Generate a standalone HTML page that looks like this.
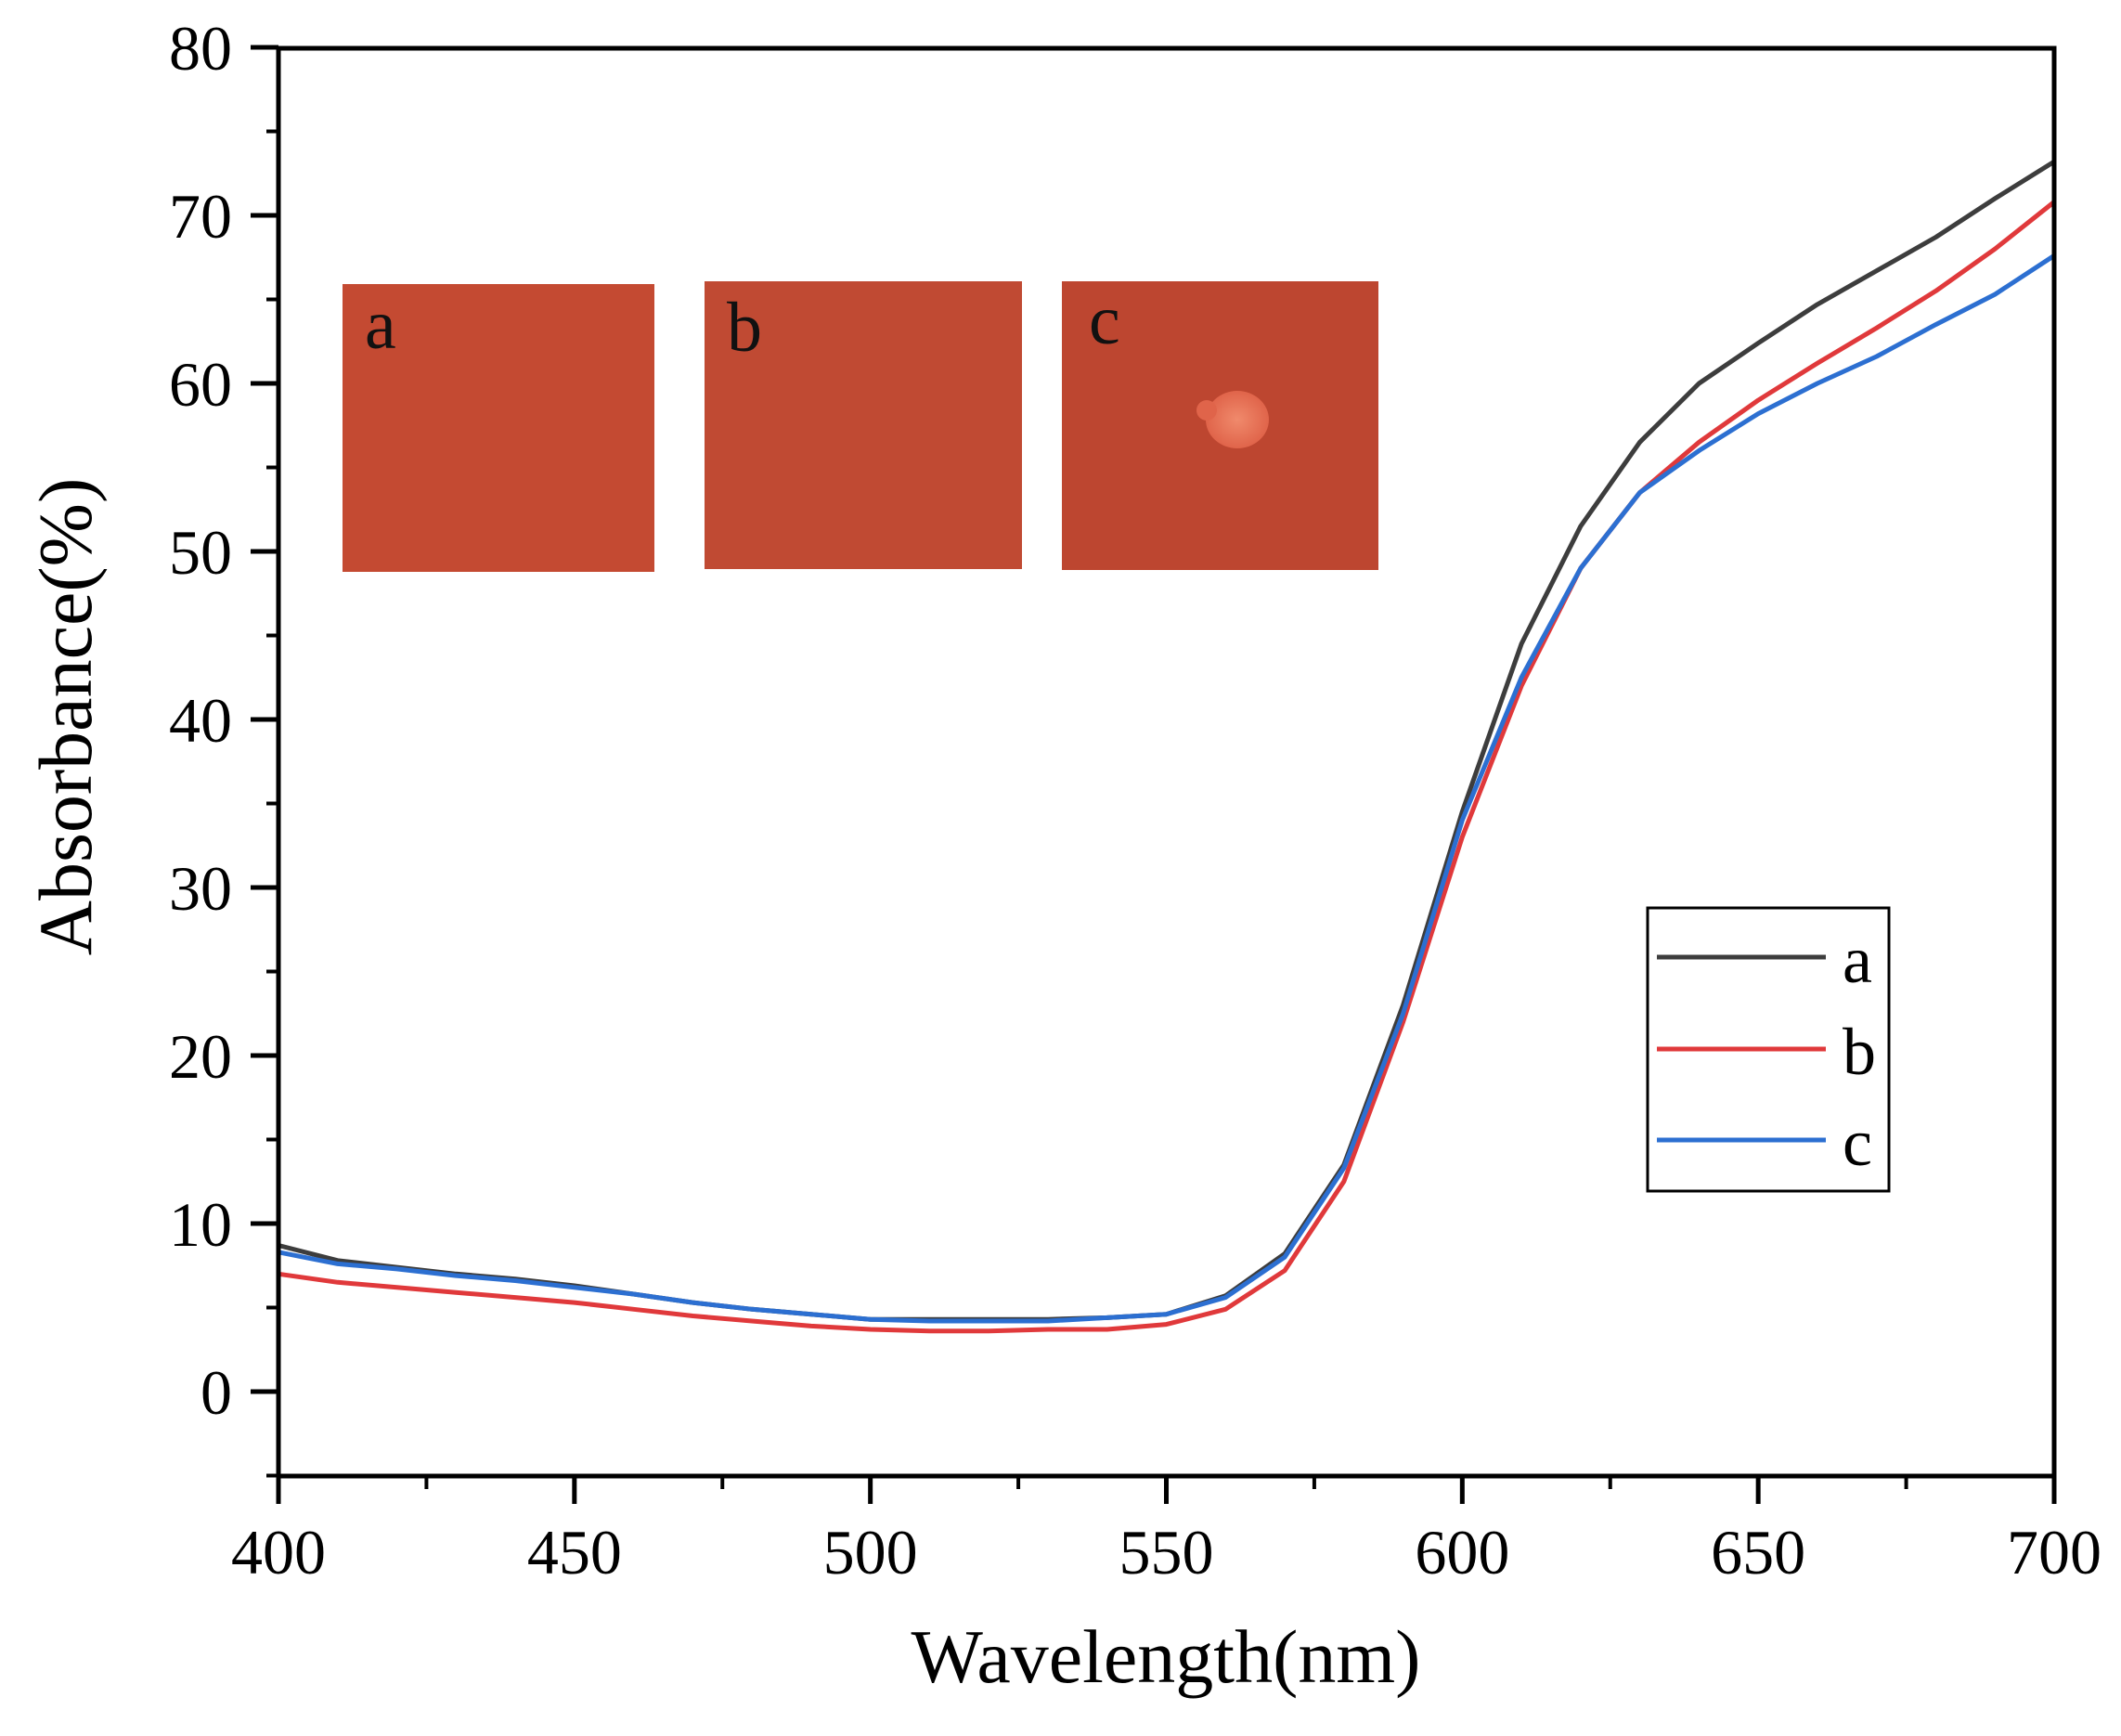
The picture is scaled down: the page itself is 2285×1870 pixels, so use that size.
<!DOCTYPE html>
<html><head><meta charset="utf-8"><style>
html,body{margin:0;padding:0;background:#fff;}
svg{display:block;font-family:"Liberation Serif",serif;}
</style></head><body>
<svg id="chart" width="2285" height="1870" viewBox="0 0 2285 1870">
<defs>
<radialGradient id="spot" cx="50%" cy="50%" r="50%"><stop offset="0%" stop-color="#f08a6c"/><stop offset="100%" stop-color="#e0644a"/></radialGradient>
</defs>
<g id="insets">
  <rect x="369" y="306" width="336" height="310" fill="#c44a32"/>
  <text x="393" y="375" font-size="76" fill="#111">a</text>
  <rect x="759" y="303" width="342" height="310" fill="#c04a33"/>
  <text x="783" y="378" font-size="76" fill="#111">b</text>
  <rect x="1144" y="303" width="341" height="311" fill="#bd4630"/>
  <text x="1173" y="370" font-size="76" fill="#111">c</text>
  <ellipse cx="1333" cy="452" rx="34" ry="31" fill="url(#spot)"/>
  <circle cx="1300" cy="442" r="11" fill="#e0644a"/>
</g>
<g id="plot"></g>
<rect x="300" y="52" width="1913" height="1538" fill="none" stroke="#000" stroke-width="5"/>
<g id="axes"></g>
<text x="1256" y="1812" font-size="82" text-anchor="middle">Wavelength(nm)</text>
<text transform="translate(98,772) rotate(-90)" font-size="82" text-anchor="middle">Absorbance(%)</text>
<g id="legend">
  <rect x="1775" y="978" width="260" height="305" fill="#fff" stroke="#000" stroke-width="3"/>
  <line x1="1785" y1="1031" x2="1967" y2="1031" stroke="#3d3d3d" stroke-width="5"/>
  <text x="1985" y="1058" font-size="72">a</text>
  <line x1="1785" y1="1130" x2="1967" y2="1130" stroke="#e0393b" stroke-width="5"/>
  <text x="1985" y="1157" font-size="72">b</text>
  <line x1="1785" y1="1228" x2="1967" y2="1228" stroke="#2c6fd1" stroke-width="5"/>
  <text x="1985" y="1255" font-size="72">c</text>
</g>
</svg>
<script>
const wavelengths=[400,410,420,430,440,450,460,470,480,490,500,510,520,530,540,550,560,570,580,590,600,610,620,630,640,650,660,670,680,690,700];
const seriesA=[8.7,7.8,7.4,7.0,6.7,6.3,5.8,5.3,4.9,4.6,4.3,4.3,4.3,4.3,4.4,4.6,5.7,8.2,13.5,23,34.5,44.5,51.5,56.5,60,62.4,64.7,66.7,68.7,71,73.2];
const seriesB=[7.0,6.5,6.2,5.9,5.6,5.3,4.9,4.5,4.2,3.9,3.7,3.6,3.6,3.7,3.7,4.0,4.9,7.2,12.5,22,33,42,49,53.5,56.5,59,61.2,63.3,65.5,68,70.8];
const seriesC=[8.3,7.6,7.3,6.9,6.6,6.2,5.8,5.3,4.9,4.6,4.3,4.2,4.2,4.2,4.4,4.6,5.6,8.0,13.3,22.5,34,42.5,49,53.5,56,58.2,60,61.6,63.5,65.3,67.6];
const xTicks=[400,450,500,550,600,650,700];
const yTicks=[0,10,20,30,40,50,60,70,80];
const NS="http://www.w3.org/2000/svg";
const X=v=>300+(v-400)*(1913/300);
const Y=v=>1499-v*18.1;
const plot=document.getElementById('plot'),axes=document.getElementById('axes');
function mk(tag,attrs,parent){const e=document.createElementNS(NS,tag);for(const k in attrs)e.setAttribute(k,attrs[k]);parent.appendChild(e);return e;}
[[seriesA,'#3d3d3d','series-a'],[seriesB,'#e0393b','series-b'],[seriesC,'#2c6fd1','series-c']].forEach(([d,c,n])=>{
  const p=mk('polyline',{points:d.map((v,i)=>X(wavelengths[i]).toFixed(1)+','+Y(v).toFixed(1)).join(' '),fill:'none',stroke:c,'stroke-width':5,'stroke-linejoin':'round'},plot);
  
  
});
xTicks.forEach(t=>{
  const l=mk('line',{x1:X(t),x2:X(t),y1:1590,y2:1620,stroke:'#000','stroke-width':5},axes);
  
  
  const tx=mk('text',{x:X(t),y:1695,'font-size':68,'text-anchor':'middle'},axes);
  tx.textContent=t;
  
  
  if(t<700){const m=mk('line',{x1:X(t+25),x2:X(t+25),y1:1590,y2:1604,stroke:'#000','stroke-width':4},axes);
  
  }
});
yTicks.forEach(t=>{
  const l=mk('line',{x1:270,x2:300,y1:Y(t),y2:Y(t),stroke:'#000','stroke-width':5},axes);
  
  
  const tx=mk('text',{x:250,y:Y(t)+24,'font-size':68,'text-anchor':'end'},axes);
  tx.textContent=t;
  
  
  const m=mk('line',{x1:287,x2:300,y1:Y(t-5),y2:Y(t-5),stroke:'#000','stroke-width':4},axes);
  
  
});
</script>
</body></html>
